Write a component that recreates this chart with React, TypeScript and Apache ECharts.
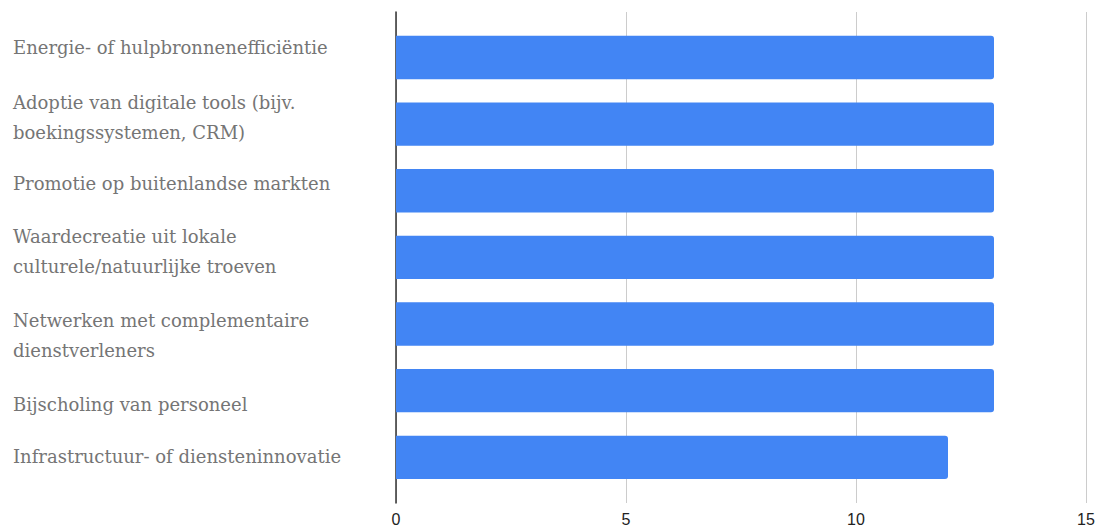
import React, { useEffect, useRef } from "react";
import * as echarts from "echarts";

const categories = [
  "Energie- of hulpbronnenefficiëntie",
  "Adoptie van digitale tools (bijv. boekingssystemen, CRM)",
  "Promotie op buitenlandse markten",
  "Waardecreatie uit lokale culturele/natuurlijke troeven",
  "Netwerken met complementaire dienstverleners",
  "Bijscholing van personeel",
  "Infrastructuur- of diensteninnovatie",
];
const values = [13, 13, 13, 13, 13, 13, 12];
const xTicks = [0, 5, 10, 15];

// label layout: vertical nudge (px, + = down)
const labelShifts = [-10.5, -7, -7.7, -6.3, 11, 13.5, -1];
const LINE_H = 30;
const LABEL_FONT = "18px 'DejaVu Serif'";
const LABEL_W = 338;

function wrapWords(text: string, maxW: number): string {
  const ctx = document.createElement("canvas").getContext("2d");
  if (!ctx) return text;
  ctx.font = LABEL_FONT;
  const words = text.split(" ");
  const lines: string[] = [];
  let cur = "";
  for (const w of words) {
    const test = cur ? cur + " " + w : w;
    if (cur && ctx.measureText(test).width > maxW) {
      lines.push(cur);
      cur = w;
    } else {
      cur = test;
    }
  }
  if (cur) lines.push(cur);
  return lines.join("\n");
}

export default function App() {
  const ref = useRef<HTMLDivElement>(null);
  useEffect(() => {
    if (!ref.current) return;
    const chart = echarts.init(ref.current, null, { renderer: "svg" });
    const wrapped = categories.map((c) => wrapWords(c, LABEL_W));
    const catData = categories.map((c, i) => {
      const s = labelShifts[i] || 0;
      const h = wrapped[i].split("\n").length * LINE_H;
      return {
        value: c,
        textStyle: {
          align: "left",
          verticalAlign: "top",
          padding: [s - h / 2, 0, 0, 0],
        },
      };
    });
    chart.setOption({
      animation: false,
      grid: [
        { left: 396, right: 13, top: 12, bottom: 26, containLabel: false, outerBoundsMode: "none" },
        { left: 396, right: 13, top: 24.2, bottom: 38.4, containLabel: false, outerBoundsMode: "none" },
      ],
      xAxis: [
        {
          gridIndex: 0,
          type: "value",
          min: xTicks[0],
          max: xTicks[xTicks.length - 1],
          interval: xTicks[1] - xTicks[0],
          axisLine: { show: false },
          axisTick: { show: false },
          splitLine: { show: true, lineStyle: { color: "#cccccc", width: 1 } },
          axisLabel: {
            margin: 8,
            fontFamily: "Liberation Sans",
            fontSize: 16,
            color: "#222222",
          },
        },
        {
          gridIndex: 1,
          type: "value",
          min: xTicks[0],
          max: xTicks[xTicks.length - 1],
          show: false,
        },
      ],
      yAxis: [
        {
          gridIndex: 0,
          type: "value",
          min: 0,
          max: 1,
          axisLine: { show: true, lineStyle: { color: "#333333", width: 1.5 } },
          axisTick: { show: false },
          axisLabel: { show: false },
          splitLine: { show: false },
        },
        {
          gridIndex: 1,
          type: "category",
          inverse: true,
          data: catData,
          axisLine: { show: false },
          axisTick: { show: false },
          splitLine: { show: false },
          axisLabel: {
            interval: 0,
            align: "left",
            margin: 383,
            formatter: (_v: string, index: number) => wrapped[index],
            fontFamily: "DejaVu Serif",
            fontSize: 18,
            lineHeight: LINE_H,
            color: "#757575",
          },
        },
      ],
      series: [
        {
          type: "bar",
          xAxisIndex: 1,
          yAxisIndex: 1,
          data: values,
          barWidth: "65%",
          itemStyle: { color: "#4285F4", borderRadius: [0, 3, 3, 0] },
        },
      ],
    });
    return () => chart.dispose();
  }, []);
  return (
    <div
      ref={ref}
      style={{ position: "fixed", left: 0, top: 0, width: 1099, height: 529, background: "#fff" }}
    />
  );
}
